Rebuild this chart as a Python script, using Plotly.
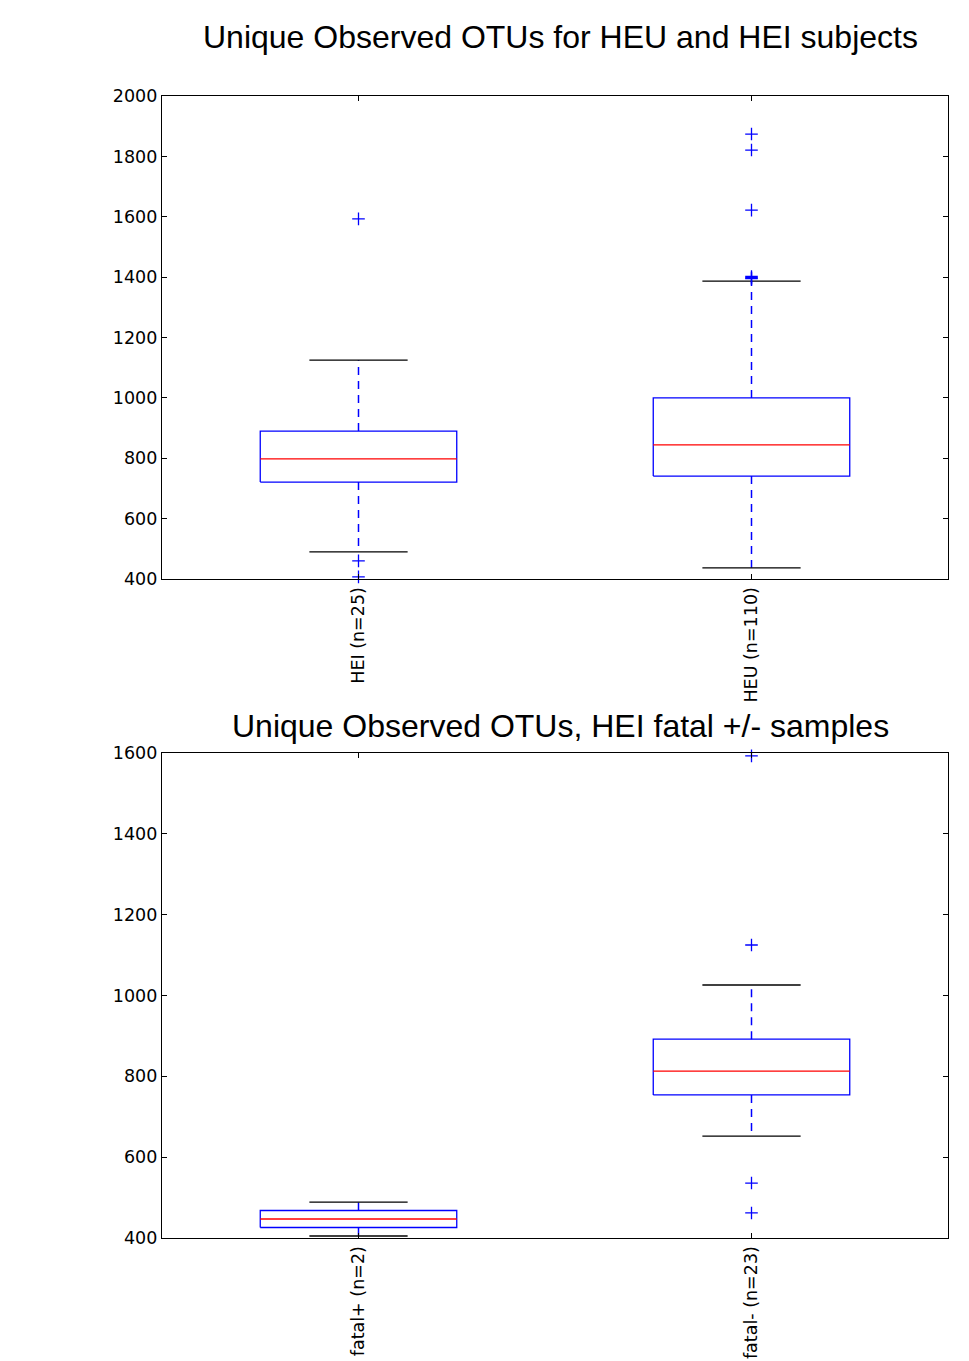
import plotly.graph_objects as go

# ---------------- data ----------------
top_categories = ["HEI (n=25)", "HEU (n=110)"]
top_q1 = [721, 741]
top_median = [798, 844]
top_q3 = [890, 1000]
top_lower_whisker = [490, 437]
top_upper_whisker = [1125, 1387]
top_outliers = [[1593, 460, 407], [1874, 1821, 1622, 1402, 1398, 1395]]

bottom_categories = ["fatal+ (n=2)", "fatal- (n=23)"]
bottom_q1 = [426, 754]
bottom_median = [447, 813]
bottom_q3 = [468, 892]
bottom_lower_whisker = [405, 652]
bottom_upper_whisker = [489, 1026]
bottom_outliers = [[], [1593, 1125, 536, 462]]

top_title = "Unique Observed OTUs for HEU and HEI subjects"
bottom_title = "Unique Observed OTUs, HEI fatal +/- samples"

# ---------------- style ----------------
BOX_HALF = 0.25
CAP_HALF = 0.125
BLUE = "#0000ff"
RED = "#ff0000"
W, H = 969, 1361
TICK_FONT = dict(family="DejaVu Sans", size=17.5, color="black")
TITLE_FONT = dict(family="Liberation Sans, Arial", size=32, color="black")

fig = go.Figure()


def add_boxes(q1, med, q3, lo, hi, outl, xa, ya):
    for i in range(len(q1)):
        p = i + 1
        # box
        fig.add_trace(go.Scatter(
            x=[p - BOX_HALF, p + BOX_HALF, p + BOX_HALF, p - BOX_HALF, p - BOX_HALF],
            y=[q1[i], q1[i], q3[i], q3[i], q1[i]],
            mode="lines", line=dict(color=BLUE, width=1.3),
            xaxis=xa, yaxis=ya, showlegend=False, hoverinfo="skip"))
        # median
        fig.add_trace(go.Scatter(
            x=[p - BOX_HALF, p + BOX_HALF], y=[med[i], med[i]],
            mode="lines", line=dict(color=RED, width=1.3),
            xaxis=xa, yaxis=ya, showlegend=False, hoverinfo="skip"))
        # whiskers
        for a, b in ((q3[i], hi[i]), (q1[i], lo[i])):
            fig.add_trace(go.Scatter(
                x=[p, p], y=[a, b], mode="lines",
                line=dict(color=BLUE, width=1.5, dash="8px,6px"),
                xaxis=xa, yaxis=ya, showlegend=False, hoverinfo="skip"))
        # caps
        for v in (hi[i], lo[i]):
            fig.add_trace(go.Scatter(
                x=[p - CAP_HALF, p + CAP_HALF], y=[v, v], mode="lines",
                line=dict(color="black", width=1.3),
                xaxis=xa, yaxis=ya, showlegend=False, hoverinfo="skip"))
        # outliers
        if outl[i]:
            fig.add_trace(go.Scatter(
                x=[p] * len(outl[i]), y=outl[i], mode="markers",
                marker=dict(symbol="cross-thin", size=9,
                            line=dict(color=BLUE, width=1.3)),
                xaxis=xa, yaxis=ya, showlegend=False, hoverinfo="skip",
                cliponaxis=False))


add_boxes(top_q1, top_median, top_q3, top_lower_whisker, top_upper_whisker,
          top_outliers, "x", "y")
add_boxes(bottom_q1, bottom_median, bottom_q3, bottom_lower_whisker,
          bottom_upper_whisker, bottom_outliers, "x2", "y2")

xdom = [162 / W, 948 / W]
top_dom = [1 - 579 / H, 1 - 96 / H]
bot_dom = [1 - 1238 / H, 1 - 753 / H]

common_axis = dict(showline=True, linecolor="black", linewidth=1.3, mirror="allticks",
                   ticks="inside", ticklen=5, tickwidth=1, tickcolor="black",
                   showgrid=False, zeroline=False, tickfont=TICK_FONT,
                   automargin=False)

fig.update_layout(
    width=W, height=H,
    margin=dict(l=0, r=0, t=0, b=0, autoexpand=False),
    paper_bgcolor="white", plot_bgcolor="white",
    xaxis=dict(domain=xdom, anchor="y", range=[0.5, 2.5], tickvals=[1, 2],
               ticktext=top_categories, tickangle=-90, **common_axis),
    yaxis=dict(domain=top_dom, anchor="x", range=[400, 2000],
               tickvals=list(range(400, 2001, 200)), **common_axis),
    xaxis2=dict(domain=xdom, anchor="y2", range=[0.5, 2.5], tickvals=[1, 2],
                ticktext=bottom_categories, tickangle=-90, **common_axis),
    yaxis2=dict(domain=bot_dom, anchor="x2", range=[400, 1600],
                tickvals=list(range(400, 1601, 200)), **common_axis),
    annotations=[
        dict(text=top_title, xref="paper", yref="paper", x=(162 + 948) / 2 / W + 0.006,
             y=1 - 37 / H, xanchor="center", yanchor="middle", showarrow=False,
             font=TITLE_FONT),
        dict(text=bottom_title, xref="paper", yref="paper", x=(162 + 948) / 2 / W + 0.006,
             y=1 - 726 / H, xanchor="center", yanchor="middle", showarrow=False,
             font=TITLE_FONT),
    ],
)

fig.write_html(
    "out.html",
    config={"displayModeBar": False},
    post_script="document.body.style.margin='0';document.body.style.overflow='hidden';",
)
